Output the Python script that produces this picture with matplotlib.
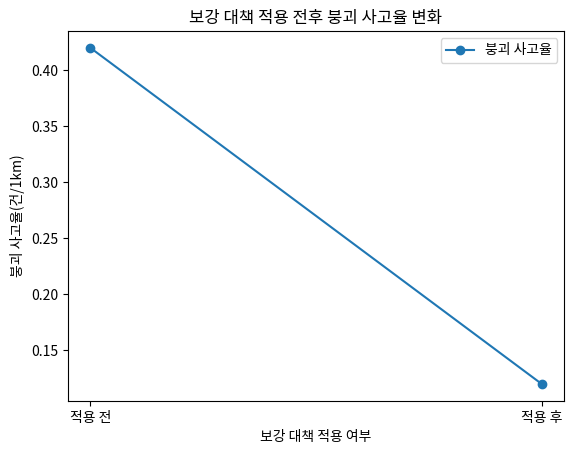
import matplotlib
matplotlib.use("Agg")
import matplotlib.pyplot as plt

plt.rcParams['font.family'] = ['Noto Sans CJK KR', 'DejaVu Sans']

categories = ['적용 전', '적용 후']
rates = [0.42, 0.12]

fig, ax = plt.subplots(figsize=(5.73, 4.54), dpi=100)
ax.plot(categories, rates, marker='o', label='붕괴 사고율')
ax.set_title('보강 대책 적용 전후 붕괴 사고율 변화')
ax.set_xlabel('보강 대책 적용 여부')
ax.set_ylabel('붕괴 사고율(건/1km)')
ax.legend()
fig.subplots_adjust(left=0.118, right=0.985, top=0.932, bottom=0.117)
fig.savefig('out.png')
